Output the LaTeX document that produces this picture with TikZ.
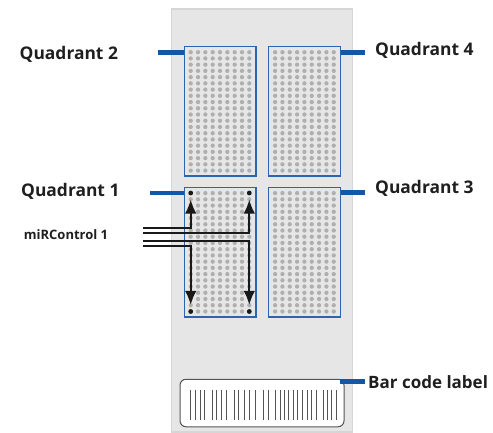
\documentclass[tikz,border=0pt]{standalone}
\usepackage{fontspec}
\setmainfont{Open Sans}
\usetikzlibrary{arrows.meta}
\definecolor{slidegray}{RGB}{230,230,230}
\definecolor{slideedge}{RGB}{214,214,214}
\definecolor{quadblue}{RGB}{45,100,175}
\definecolor{leadblue}{RGB}{20,88,165}
\definecolor{spotgray}{RGB}{175,175,175}
\definecolor{barink}{RGB}{85,85,85}

\begin{document}
\begin{tikzpicture}[x=1pt, y=-1pt,
    slide/.style={rectangle, draw=slideedge, fill=slidegray, line width=1.2pt,
              minimum width=181pt, minimum height=423pt, inner sep=0pt},
    quad/.style={rectangle, draw=quadblue, line width=1.1pt, fill=slidegray,
              minimum width=71.5pt, minimum height=129.5pt, inner sep=0pt},
    spot/.style={circle, fill=spotgray, minimum size=4.3pt, inner sep=0pt},
    ctrl/.style={circle, fill=black!90, minimum size=4.8pt, inner sep=0pt},
    lab/.style={font=\bfseries\fontsize{17.4}{20}\selectfont, color=black!88,
              inner sep=0pt, anchor=west},
    barcode/.style={rectangle, rounded corners=6pt, draw=barink, fill=white, line width=1pt,
              minimum width=164pt, minimum height=47.5pt, inner sep=0pt},
    leader/.style={draw=leadblue, line width=4.6pt},
    arr/.style={-{Latex[length=14pt,width=11.5pt]}, draw=black!90, line width=2pt, shorten >=4pt}]

  \useasboundingbox (0,0) rectangle (493,433);

  % ---------- slide ---------------------------------------------------------
  \node[slide] (sld) at (262.3,220.5) {};

  % ---------- four quadrants ------------------------------------------------
  \foreach \n/\x/\y in {q2/220.2/111.3, q4/304.6/111.3, q1/220.2/252.2, q3/304.6/252.2} {
    \node[quad] (\n) at (\x,\y) {};
    \foreach \i in {0,...,8} {
      \foreach \j in {0,...,19} {
        \node[spot] at ({\x-29.5+\i*7.33},{\y-59.1+\j*6.23}) {};
      }
    }
  }

  % ---------- labels --------------------------------------------------------
  \node[lab] (l2) at (19.5,54.5) {Quadrant 2};
  \node[lab] (l4) at (375,50.5) {Quadrant 4};
  \node[lab] (l1) at (21,191) {Quadrant 1};
  \node[lab] (l3) at (375,188) {Quadrant 3};
  \node[lab, font=\bfseries\fontsize{13}{15}\selectfont] (lc) at (23.7,235) {miRControl 1};

  \coordinate (t2) at (158,52.3);
  \coordinate (t4) at (365,52.3);
  \coordinate (t1) at (150,193);
  \coordinate (t3) at (365,192.7);
  \draw[leader] (t2) -- (t2 -| q2.west);
  \draw[leader] (t4) -- (t4 -| q4.east);
  \draw[leader] (t1) -- (t1 -| q1.west);
  \draw[leader] (t3) -- (t3 -| q3.east);

  % ---------- control spots and wires ---------------------------------------
  \node[ctrl] (c1) at (190.7,193) {};
  \node[ctrl] (c2) at (249.3,193) {};
  \node[ctrl] (c3) at (190.7,311.5) {};
  \node[ctrl] (c4) at (249.3,311.5) {};

  \coordinate (w1) at (143,227.7);
  \coordinate (w2) at (143,232.7);
  \coordinate (w3) at (143,240.7);
  \coordinate (w4) at (143,246);
  \draw[arr] (w1) -| (c1);
  \draw[arr] (w2) -| (c2);
  \draw[arr] (w3) -| (c4);
  \draw[arr] (w4) -| (c3);

  % ---------- bar code ------------------------------------------------------
  \node[barcode] (bar) at (262,403) {};
  \foreach \x in {190.7,195,200,204.3, 212.3,216.7,221.7,226, 234,238.3,244.3,249.3,255,
                  263.3,268.3, 275.7,280,284.3,288.3,293,297.7,302.3,307.3,311.7,316.7,
                  323.3,327.7,331.7,336.7} {
    \draw[barink, line width=1pt] (\x,390) -- (\x,420);
  }
  \node[lab, font=\bfseries\fontsize{17}{20}\selectfont] (lb) at (368,382) {Bar code label};
  \coordinate (tb) at (365,381.7);
  \coordinate (tc) at (340,381.7);
  \draw[leader] (tb) -- (tc);
\end{tikzpicture}
\end{document}
